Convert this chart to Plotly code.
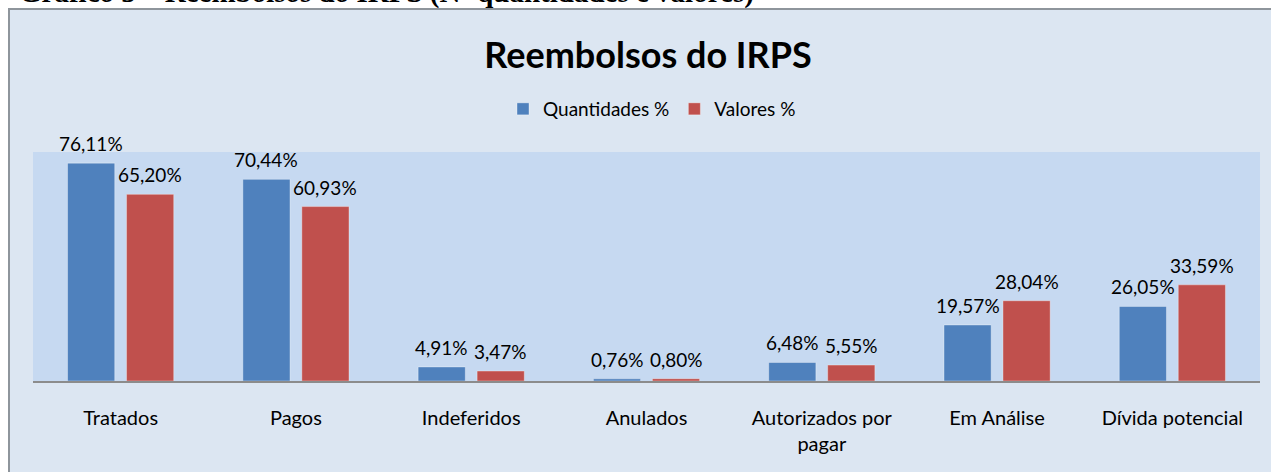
import plotly.graph_objects as go

categories = ["Tratados", "Pagos", "Indeferidos", "Anulados", "Autorizados por<br>pagar", "Em Análise", "Dívida potencial"]
quantidades = [76.11, 70.44, 4.91, 0.76, 6.48, 19.57, 26.05]
valores = [65.20, 60.93, 3.47, 0.80, 5.55, 28.04, 33.59]
series_names = ["Quantidades %", "Valores %"]
colors = ["#4f81bd", "#c0504d"]

FONT = "Lato, 'Open Sans', sans-serif"

W, H = 1271, 472
ML, MR, MT, MB = 33, 11, 152, 91
PW = W - ML - MR
PH = H - MT - MB

def px_to_paper_x(px):
    return (px - ML) / PW

def px_to_paper_y(py):
    return (H - MB - py) / PH

def fmt(v):
    return f"{v:.2f}".replace(".", ",") + "%"

fig = go.Figure()
for name, vals, col in zip(series_names, [quantidades, valores], colors):
    fig.add_trace(go.Bar(
        x=categories, y=vals, name=name,
        marker=dict(color=col, line=dict(color="rgba(255,255,255,0.35)", width=1)),
    ))

# data labels
for i, vals in enumerate([quantidades, valores]):
    shift = -29.5 if i == 0 else 29.5
    for c, v in zip(categories, vals):
        fig.add_annotation(x=c, y=v, text=fmt(v), showarrow=False,
                           xref="x", yref="y", xshift=shift, yanchor="bottom", yshift=6,
                           font=dict(family=FONT, size=19, color="#000000"))

# outer chart frame and plot area
fig.add_shape(type="rect", xref="paper", yref="paper",
              x0=px_to_paper_x(9), x1=px_to_paper_x(1295),
              y0=px_to_paper_y(490), y1=px_to_paper_y(9),
              fillcolor="#dce6f2", line=dict(color="#8e959c", width=2), layer="below")
fig.add_shape(type="rect", xref="paper", yref="paper",
              x0=0, x1=1, y0=0, y1=1,
              fillcolor="#c6d9f1", line=dict(width=0), layer="below")

# cropped caption at the very top
fig.add_annotation(xref="paper", yref="paper", x=px_to_paper_x(17), y=px_to_paper_y(11),
                   xanchor="left", yanchor="bottom", showarrow=False,
                   text="<b>Gráfico 5 – Reembolsos do IRPS (Nº quantidades e valores)</b>",
                   font=dict(family="'Liberation Serif', serif", size=29, color="#000000"))

fig.update_layout(
    width=W, height=H,
    margin=dict(l=ML, r=MR, t=MT, b=MB, pad=0, autoexpand=False),
    paper_bgcolor="#ffffff", plot_bgcolor="rgba(0,0,0,0)",
    barmode="group", bargap=0.327, bargroupgap=0.2,
    title=dict(text="<b>Reembolsos do IRPS</b>", x=648 / W, xanchor="center",
               y=1 - 55 / H, yanchor="middle",
               font=dict(family=FONT, size=36, color="#000000")),
    legend=dict(orientation="h", x=px_to_paper_x(652), xanchor="center",
                y=px_to_paper_y(109), yanchor="middle",
                font=dict(family=FONT, size=19, color="#000000"),
                bgcolor="rgba(0,0,0,0)", itemwidth=30, traceorder="normal"),
    showlegend=True,
    font=dict(family=FONT, color="#000000"),
)
fig.update_xaxes(showline=True, linecolor="#8c8c8c", linewidth=2, showgrid=False,
                 ticks="", ticklabelstandoff=18, automargin=False,
                 tickfont=dict(family=FONT, size=20, color="#000000"))
fig.update_yaxes(range=[0, 80], showgrid=False, showticklabels=False, zeroline=False,
                 showline=False, ticks="", automargin=False)

fig.write_html("out.html", config={"displayModeBar": False},
               post_script="document.body.style.margin='0';document.body.style.overflow='hidden';")
